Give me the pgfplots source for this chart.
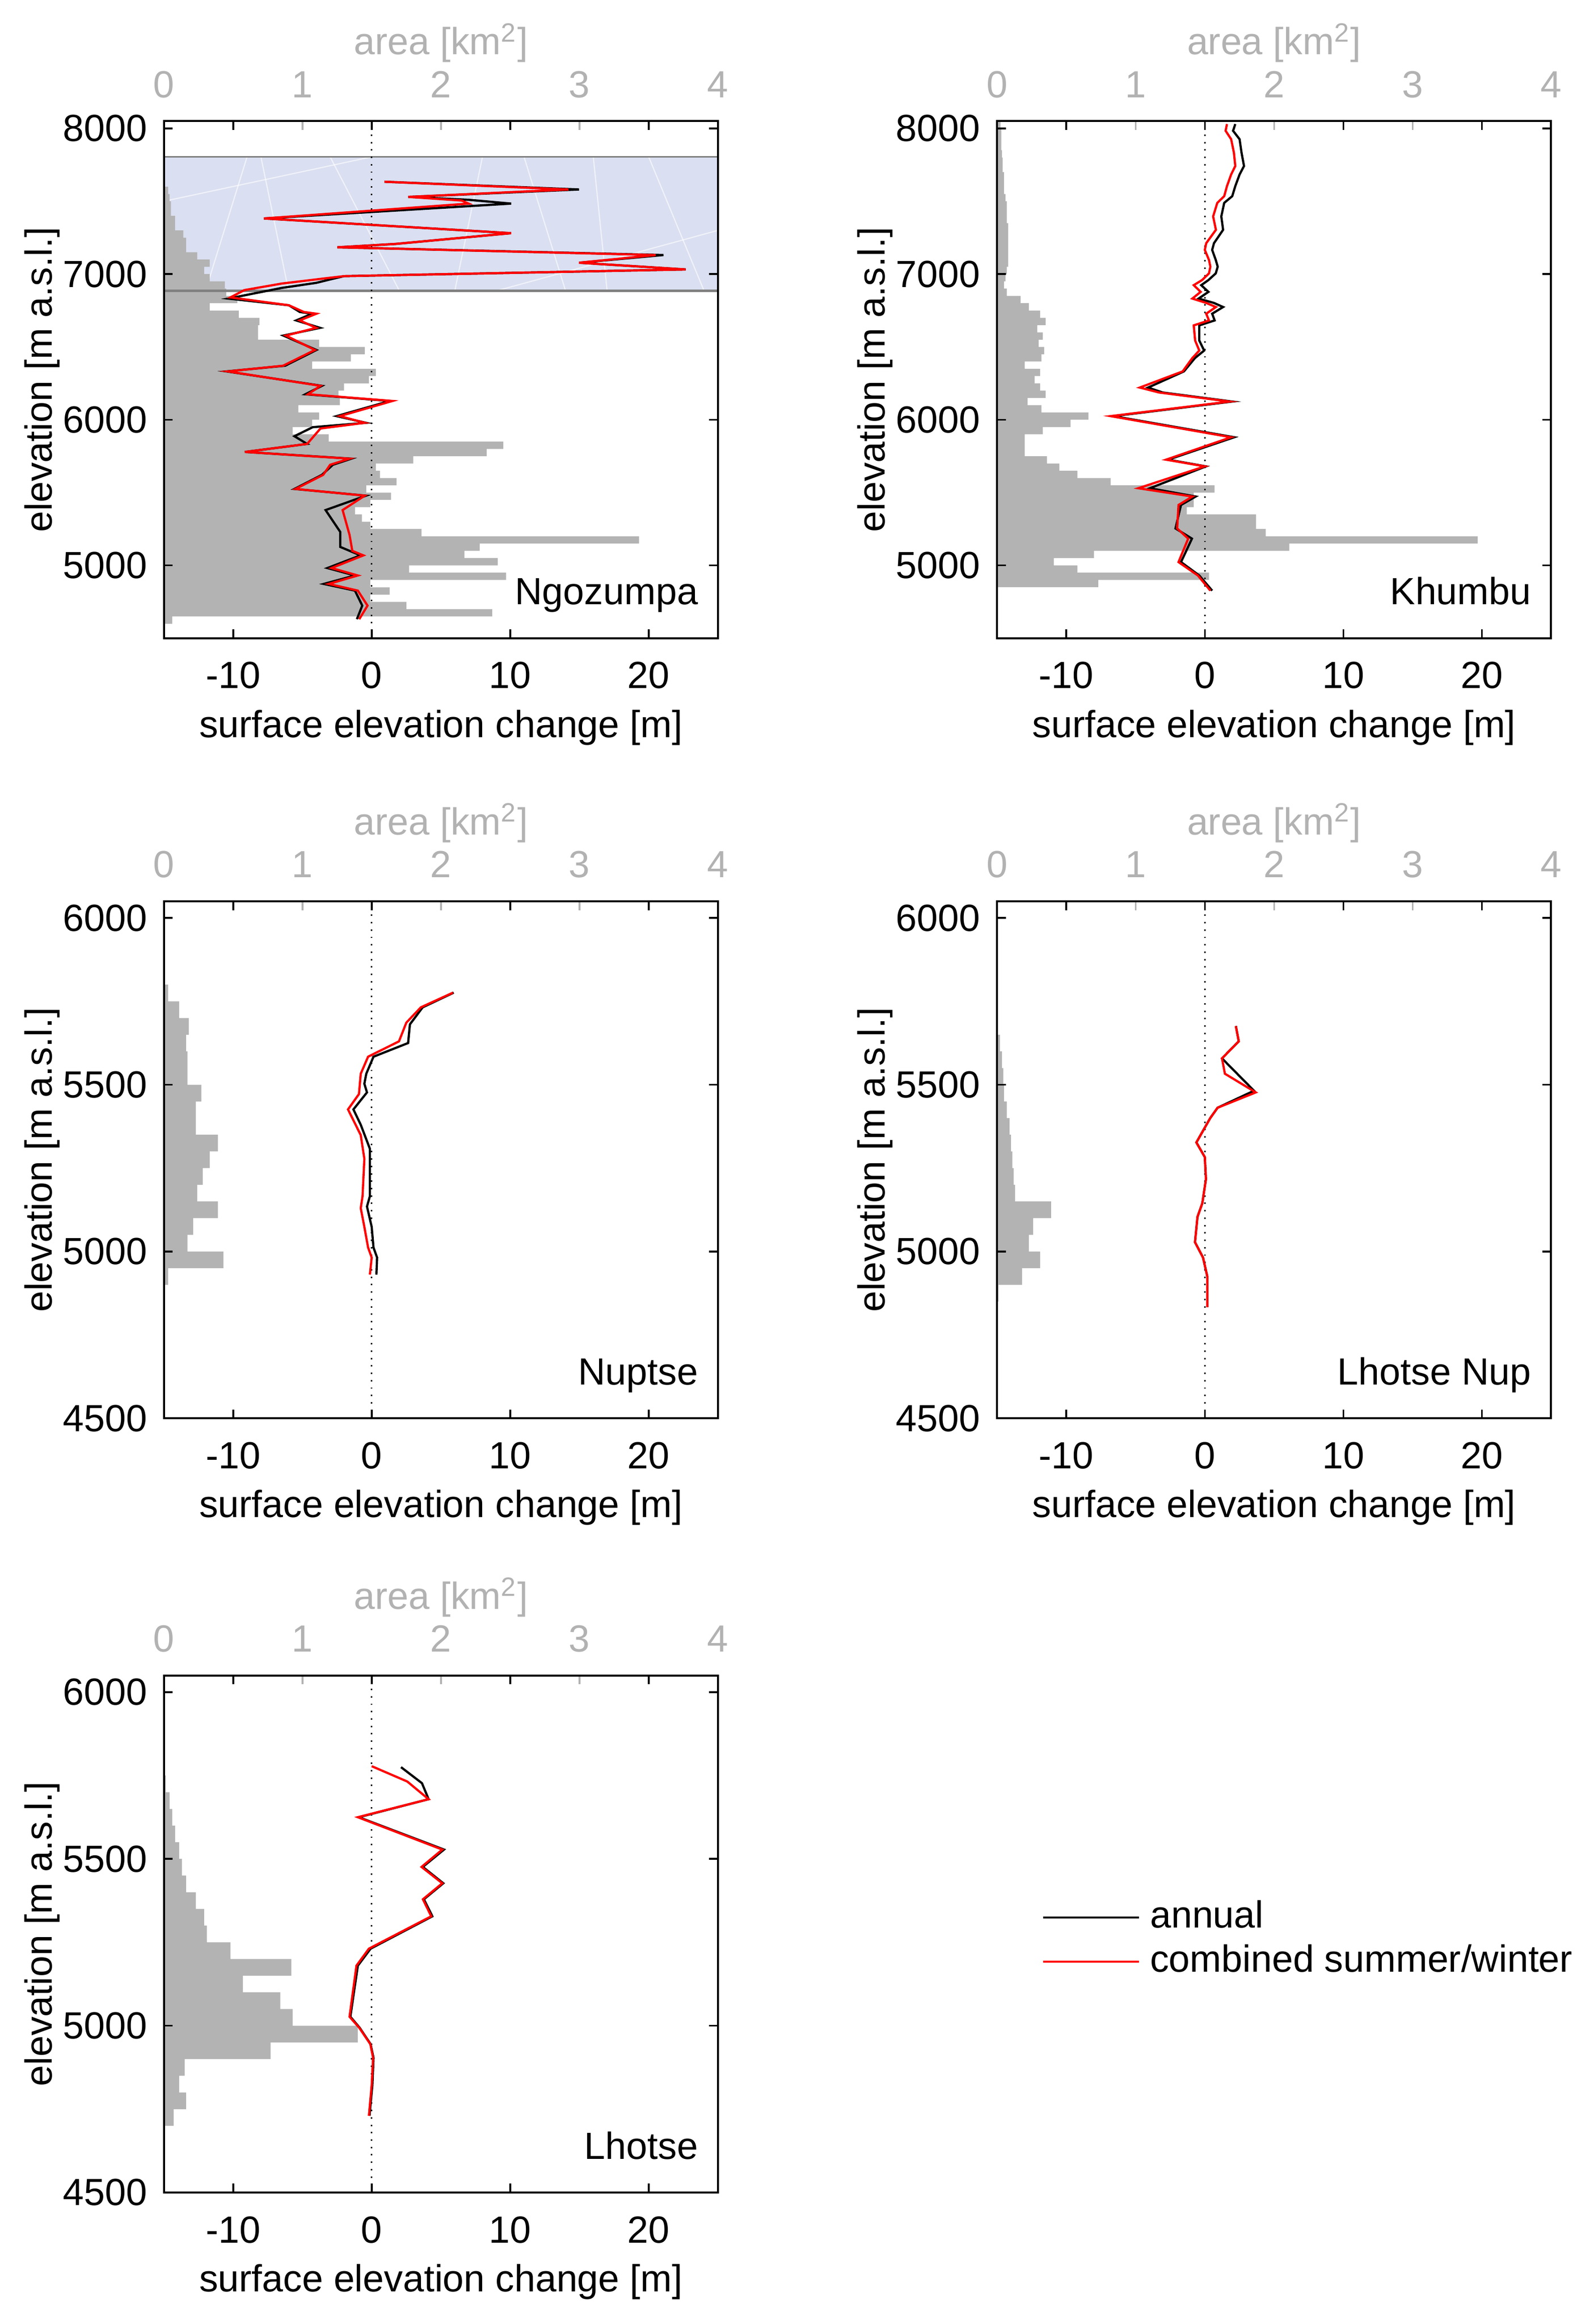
\documentclass[border=0pt]{standalone}
\usepackage{fontspec}
\setmainfont{Liberation Sans}
\usepackage{pgfplots}
\pgfplotsset{compat=1.18}
\definecolor{histgray}{RGB}{179,179,179}
\definecolor{areagray}{RGB}{178,178,178}
\definecolor{iceblue}{RGB}{218,223,241}
\newcommand{\fnt}{\fontsize{12.8pt}{15pt}\selectfont}
\tikzset{glac/.style={anchor=base east, inner sep=0pt, font=\fnt}}
\pgfplotsset{
  areaaxis/.style={scale only axis, width=187.5pt, height=175pt,
    xmin=0, xmax=4, axis y line=none, axis x line*=top,
    xtick={0,1,2,3,4}, xticklabels={0,1,2,3,4}, tick align=inside,
    major tick length=3pt, major tick style={areagray, line width=0.6pt},
    x axis line style={draw=none},
    every tick label/.append style={font=\fnt},
    x tick label style={text=areagray, anchor=base, yshift=8pt},
    xlabel={area [km\textsuperscript{2}]},
    xlabel style={font=\fnt, text=areagray, at={(axis description cs:0.5,1)}, anchor=base, yshift=22.5pt}},
  mainaxis/.style={scale only axis, width=187.5pt, height=175pt,
    xmin=-15, xmax=25, xtick={-10,0,10,20}, xticklabels={-10,0,10,20},
    tick align=inside, tick pos=both, major tick length=3pt,
    axis line style={line width=0.7pt},
    major tick style={black, line width=0.6pt},
    every tick label/.append style={font=\fnt},
    x tick label style={anchor=base, yshift=-17pt},
    y tick label style={anchor=east, xshift=-1.25pt},
    xlabel={surface elevation change [m]},
    xlabel style={font=\fnt, at={(axis description cs:0.5,0)}, anchor=base, yshift=-33.5pt},
    ylabel={elevation [m a.s.l.]},
    ylabel style={font=\fnt, at={(axis description cs:-0.2027,0.5)}, anchor=base}},
  tall/.style={ymin=4500, ymax=8050, ytick={5000,6000,7000,8000}, yticklabels={5000,6000,7000,8000}},
  short/.style={ymin=4500, ymax=6050, ytick={4500,5000,5500,6000}, yticklabels={4500,5000,5500,6000}},
  hist/.style={xbar interval, fill=histgray, draw=none, forget plot},
  ann/.style={black, line width=0.75pt},
  comb/.style={red, line width=0.75pt},
  zero/.style={black, dotted, line width=0.5pt, forget plot},
  streak/.style={white, line width=0.4pt, opacity=0.6, forget plot},
}
\begin{document}
\fnt
\begin{tikzpicture}
\useasboundingbox (0,0) rectangle (535pt,-786.5pt);

% ---------------- Ngozumpa ----------------
\begin{axis}[areaaxis, tall, at={(55.5pt,-216pt)}, anchor=south west]
\addplot[fill=iceblue, draw=none, forget plot] coordinates {(0,6885) (4,6885) (4,7805) (0,7805)};
\addplot[streak] coordinates {(0.3,6885) (0.6,7805)};
\addplot[streak] coordinates {(0.9,6885) (0.7,7805)};
\addplot[streak] coordinates {(1.2,7805) (1.7,6885)};
\addplot[streak] coordinates {(2.1,6885) (2.3,7805)};
\addplot[streak] coordinates {(2.6,7805) (2.9,6885)};
\addplot[streak] coordinates {(3.2,6885) (3.1,7805)};
\addplot[streak] coordinates {(3.5,7805) (3.9,6885)};
\addplot[streak] coordinates {(0,7500) (1.5,7805)};
\addplot[streak] coordinates {(2.4,6885) (4,7300)};
\addplot[hist] coordinates {
(0.06,4600) (2.37,4650) (1.75,4700) (1.49,4750) (1.63,4800) (1.49,4850) (2.47,4900) (1.77,4950)
(2.41,5000) (2.17,5050) (2.28,5100) (3.43,5150) (1.86,5200) (1.49,5250) (1.43,5300) (1.38,5350)
(1.49,5400) (1.64,5450) (1.46,5500) (1.68,5550) (1.56,5600) (1.53,5650) (1.80,5700) (2.33,5750)
(2.45,5800) (1.19,5850) (0.93,5900) (1.07,5950) (1.12,6000) (0.97,6050) (1.27,6100) (1.26,6150)
(1.30,6200) (1.48,6250) (1.53,6300) (1.07,6350) (1.35,6400) (1.45,6450) (1.12,6500) (0.68,6550)
(0.68,6600) (0.69,6650) (0.54,6700) (0.33,6750) (0.53,6800) (0.45,6850) (0.44,6900) (0.33,6950)
(0.29,7000) (0.33,7050) (0.24,7100) (0.16,7150) (0.16,7200) (0.14,7250) (0.08,7300) (0.08,7350)
(0.05,7400) (0.05,7450) (0.04,7500) (0.03,7550) (0,7600)};
\addplot[gray, line width=0.5pt, forget plot] coordinates {(0,7805) (4,7805)};
\addplot[gray, line width=0.9pt, forget plot] coordinates {(0,6885) (4,6885)};
\end{axis}
\begin{axis}[mainaxis, tall, at={(55.5pt,-216pt)}, anchor=south west]
\addplot[zero] coordinates {(0,4500) (0,8050)};
\addplot[ann] coordinates {
(0.92,7634) (14.97,7581) (2.64,7530) (7.0,7510) (10.07,7484) (-7.78,7382) (10.07,7281) (1.71,7207)
(-2.48,7184) (21.07,7131) (14.97,7078) (22.67,7032) (-2.0,6986) (-2.8,6968) (-4.0,6940) (-6.5,6905)
(-10.36,6832) (-5.98,6786) (-5.19,6740) (-4.3,6728) (-5.45,6682) (-3.73,6631) (-6.38,6578) (-3.99,6479)
(-6.25,6371) (-10.49,6332) (-3.59,6233) (-4.79,6175) (1.31,6129) (-2.53,6025) (-0.41,5979) (-4.26,5949)
(-5.58,5887) (-4.66,5834) (-9.16,5779) (-1.47,5733) (-2.80,5691) (-3.59,5622) (-5.58,5525) (-0.41,5479)
(-3.33,5380) (-2.27,5230) (-2.27,5127) (-0.81,5069) (-3.20,4982) (-1.21,4931) (-3.46,4873) (-1.21,4827)
(-0.68,4724) (-1.07,4631)};
\addplot[comb] coordinates {
(0.92,7634) (14.2,7581) (2.64,7530) (6.5,7505) (7.0,7484) (-7.78,7382) (10.07,7281) (1.71,7207)
(-2.48,7184) (20.5,7131) (14.97,7078) (22.67,7032) (-2.0,6986) (-3.0,6975) (-6.5,6935) (-9.2,6890)
(-10.2,6840) (-5.98,6786) (-4.9,6740) (-3.99,6728) (-5.2,6682) (-4.0,6631) (-6.2,6578) (-4.1,6479)
(-6.4,6371) (-10.4,6332) (-3.7,6233) (-4.6,6175) (1.5,6129) (-2.3,6025) (-0.5,5979) (-3.7,5940)
(-4.66,5834) (-9.16,5779) (-1.6,5733) (-3.0,5691) (-3.5,5622) (-5.5,5525) (-0.5,5479)
(-2.1,5380) (-1.6,5210) (-1.4,5100) (-0.6,5069) (-2.9,4982) (-1.0,4931) (-3.1,4873) (-1.0,4827)
(-0.3,4724) (-0.9,4631)};
\node[glac] at (rel axis cs:0.965,0.065) {Ngozumpa};
\end{axis}

% ---------------- Khumbu ----------------
\begin{axis}[areaaxis, tall, at={(337.5pt,-216pt)}, anchor=south west]
\addplot[hist] coordinates {
(0.73,4850) (1.53,4900) (0.58,4950) (0.41,5000) (0.70,5050) (2.11,5100) (3.47,5150) (1.94,5200)
(1.87,5250) (1.87,5300) (1.37,5350) (1.42,5400) (1.42,5450) (1.57,5500) (0.82,5550) (0.58,5600)
(0.45,5650) (0.36,5700) (0.20,5750) (0.20,5800) (0.20,5850) (0.33,5900) (0.53,5950) (0.66,6000)
(0.32,6050) (0.22,6100) (0.35,6150) (0.31,6200) (0.27,6250) (0.31,6300) (0.20,6350) (0.32,6400)
(0.34,6450) (0.30,6500) (0.33,6550) (0.29,6600) (0.35,6650) (0.31,6700) (0.23,6750) (0.17,6800)
(0.07,6850) (0.05,6900) (0.06,6950) (0.07,7000) (0.08,7050) (0.08,7100) (0.08,7150) (0.08,7200)
(0.08,7250) (0.08,7300) (0.07,7350) (0.07,7400) (0.07,7450) (0.06,7500) (0.05,7550) (0.05,7600)
(0.05,7650) (0.04,7700) (0.04,7750) (0.035,7800) (0.03,7850) (0.03,7900) (0.03,7950) (0.025,8000)
(0,8050)};
\end{axis}
\begin{axis}[mainaxis, tall, at={(337.5pt,-216pt)}, anchor=south west]
\addplot[zero] coordinates {(0,4500) (0,8050)};
\addplot[ann] coordinates {
(2.2,8030) (2.04,7984) (2.51,7926) (2.65,7834) (2.83,7742) (2.51,7684) (2.20,7604) (1.98,7535)
(1.40,7489) (1.19,7396) (1.32,7304) (0.66,7212) (0.53,7166) (0.79,7097) (0.93,7051) (0.79,7005)
(0.26,6959) (-0.26,6924) (0.26,6878) (-0.45,6832) (0.66,6802) (1.32,6774) (0.53,6728) (0.71,6682)
(-0.40,6648) (-0.40,6544) (-0.05,6475) (-0.71,6424) (-1.51,6332) (-4.1,6221) (-3.04,6187) (1.98,6125)
(-6.61,6025) (2.12,5880) (-2.65,5726) (0.08,5680) (-3.97,5530) (-0.66,5473) (-1.72,5415) (-2.12,5254)
(-0.93,5184) (-1.72,5023) (-0.40,4931) (0.53,4827)};
\addplot[comb] coordinates {
(1.6,8030) (1.5,7984) (1.9,7926) (2.1,7834) (2.2,7742) (1.9,7684) (1.6,7604) (1.4,7535)
(0.9,7489) (0.6,7396) (0.8,7304) (0.1,7212) (0.0,7166) (0.3,7097) (0.4,7051) (0.3,7005)
(-0.2,6959) (-0.8,6924) (-0.3,6878) (-0.9,6832) (0.1,6802) (0.8,6774) (0.1,6728) (0.3,6682)
(-0.8,6648) (-0.7,6544) (-0.4,6475) (-0.9,6424) (-1.6,6332) (-4.7,6221) (-3.3,6187) (1.8,6125)
(-6.8,6025) (1.9,5880) (-2.8,5726) (0.0,5680) (-4.8,5530) (-0.9,5473) (-1.9,5415) (-2.0,5254)
(-1.2,5184) (-1.9,5023) (-0.5,4931) (0.4,4827)};
\node[glac] at (rel axis cs:0.965,0.065) {Khumbu};
\end{axis}

% ---------------- Nuptse ----------------
\begin{axis}[areaaxis, short, at={(55.5pt,-480pt)}, anchor=south west]
\addplot[hist] coordinates {
(0.03,4900) (0.43,4950) (0.17,5000) (0.21,5050) (0.39,5100) (0.24,5150) (0.28,5200) (0.33,5250)
(0.39,5300) (0.23,5350) (0.23,5400) (0.27,5450) (0.17,5500) (0.17,5550) (0.16,5600) (0.18,5650)
(0.11,5700) (0.03,5750) (0,5800)};
\end{axis}
\begin{axis}[mainaxis, short, at={(55.5pt,-480pt)}, anchor=south west]
\addplot[zero] coordinates {(0,4500) (0,6050)};
\addplot[ann] coordinates {
(5.92,5776) (3.68,5732) (2.76,5681) (2.63,5625) (0.13,5584) (-0.39,5533) (-0.53,5503) (-0.34,5477)
(-1.32,5426) (-0.79,5380) (-0.13,5308) (-0.13,5237) (-0.13,5166) (-0.34,5135) (0,5074) (0.13,5012)
(0.39,4982) (0.34,4931)};
\addplot[comb] coordinates {
(5.87,5776) (3.55,5732) (2.5,5686) (1.97,5630) (-0.26,5584) (-0.79,5533) (-0.92,5472) (-1.71,5426)
(-0.79,5349) (-0.53,5278) (-0.66,5166) (-0.79,5130) (-0.53,5074) (-0.26,5012) (0,4982) (-0.13,4931)};
\node[glac] at (rel axis cs:0.965,0.065) {Nuptse};
\end{axis}

% ---------------- Lhotse Nup ----------------
\begin{axis}[areaaxis, short, at={(337.5pt,-480pt)}, anchor=south west]
\addplot[hist] coordinates {
(0.005,4800) (0.01,4850) (0.18,4900) (0.31,4950) (0.23,5000) (0.26,5050) (0.39,5100) (0.13,5150)
(0.12,5200) (0.11,5250) (0.10,5300) (0.09,5350) (0.07,5400) (0.05,5450) (0.045,5500) (0.035,5550)
(0.02,5600) (0.005,5650) (0,5700)};
\end{axis}
\begin{axis}[mainaxis, short, at={(337.5pt,-480pt)}, anchor=south west]
\addplot[zero] coordinates {(0,4500) (0,6050)};
\addplot[ann] coordinates {
(2.24,5676) (2.45,5630) (1.24,5579) (3.55,5482) (0.92,5431) (0.39,5400) (-0.61,5327) (0,5283)
(0.08,5217) (-0.18,5145) (-0.53,5104) (-0.71,5028) (-0.13,4982) (0.18,4925) (0.18,4833)};
\addplot[comb] coordinates {
(2.24,5676) (2.45,5630) (1.24,5579) (1.45,5533) (3.68,5477) (0.92,5431) (0.39,5400) (-0.61,5327)
(0,5283) (0.08,5217) (-0.18,5145) (-0.53,5104) (-0.71,5028) (-0.13,4982) (0.18,4925) (0.18,4833)};
\node[glac] at (rel axis cs:0.965,0.065) {Lhotse Nup};
\end{axis}

% ---------------- Lhotse ----------------
\begin{axis}[areaaxis, short, at={(55.5pt,-742pt)}, anchor=south west]
\addplot[hist] coordinates {
(0.07,4700) (0.16,4750) (0.11,4800) (0.15,4850) (0.77,4900) (1.40,4950) (0.93,5000) (0.84,5050)
(0.57,5100) (0.92,5150) (0.48,5200) (0.31,5250) (0.29,5300) (0.23,5350) (0.16,5400) (0.13,5450)
(0.11,5500) (0.08,5550) (0.06,5600) (0.04,5650) (0.013,5700) (0.005,5750) (0,5800)};
\end{axis}
\begin{axis}[mainaxis, short, at={(55.5pt,-742pt)}, anchor=south west,
  legend image code/.code={\draw[#1, line width=0.6pt] (0pt,0pt) -- (32.5pt,0pt);},
  legend style={draw=none, fill=none, at={(axis description cs:1.584,0.489)}, anchor=west,
    inner sep=0pt, row sep=2.8pt, font=\fnt,
    nodes={inner sep=0pt, text height=0.75em, text depth=0.2em},
    /tikz/every odd column/.append style={column sep=3.5pt}},
  legend cell align=left]
\addplot[zero] coordinates {(0,4500) (0,6050)};
\addplot[ann] coordinates {
(2.12,5775) (3.63,5727) (4.11,5679) (-0.93,5625) (5.22,5528) (3.69,5476) (5.17,5427) (3.77,5379)
(4.38,5328) (-0.08,5231) (-1.0,5180) (-1.54,5027) (-0.87,4994) (-0.08,4945) (0.13,4904) (0.05,4822)
(-0.16,4730)};
\addplot[comb] coordinates {
(0,5778) (2.57,5732) (4.11,5679) (-1.0,5625) (5.1,5528) (3.6,5476) (5.1,5427) (3.7,5379)
(4.3,5328) (-0.2,5231) (-1.1,5180) (-1.6,5027) (-0.9,4994) (-0.1,4945) (0.1,4904) (0.0,4822)
(-0.2,4730)};
\legend{annual, combined summer/winter}
\node[glac] at (rel axis cs:0.965,0.065) {Lhotse};
\end{axis}
\end{tikzpicture}
\end{document}
